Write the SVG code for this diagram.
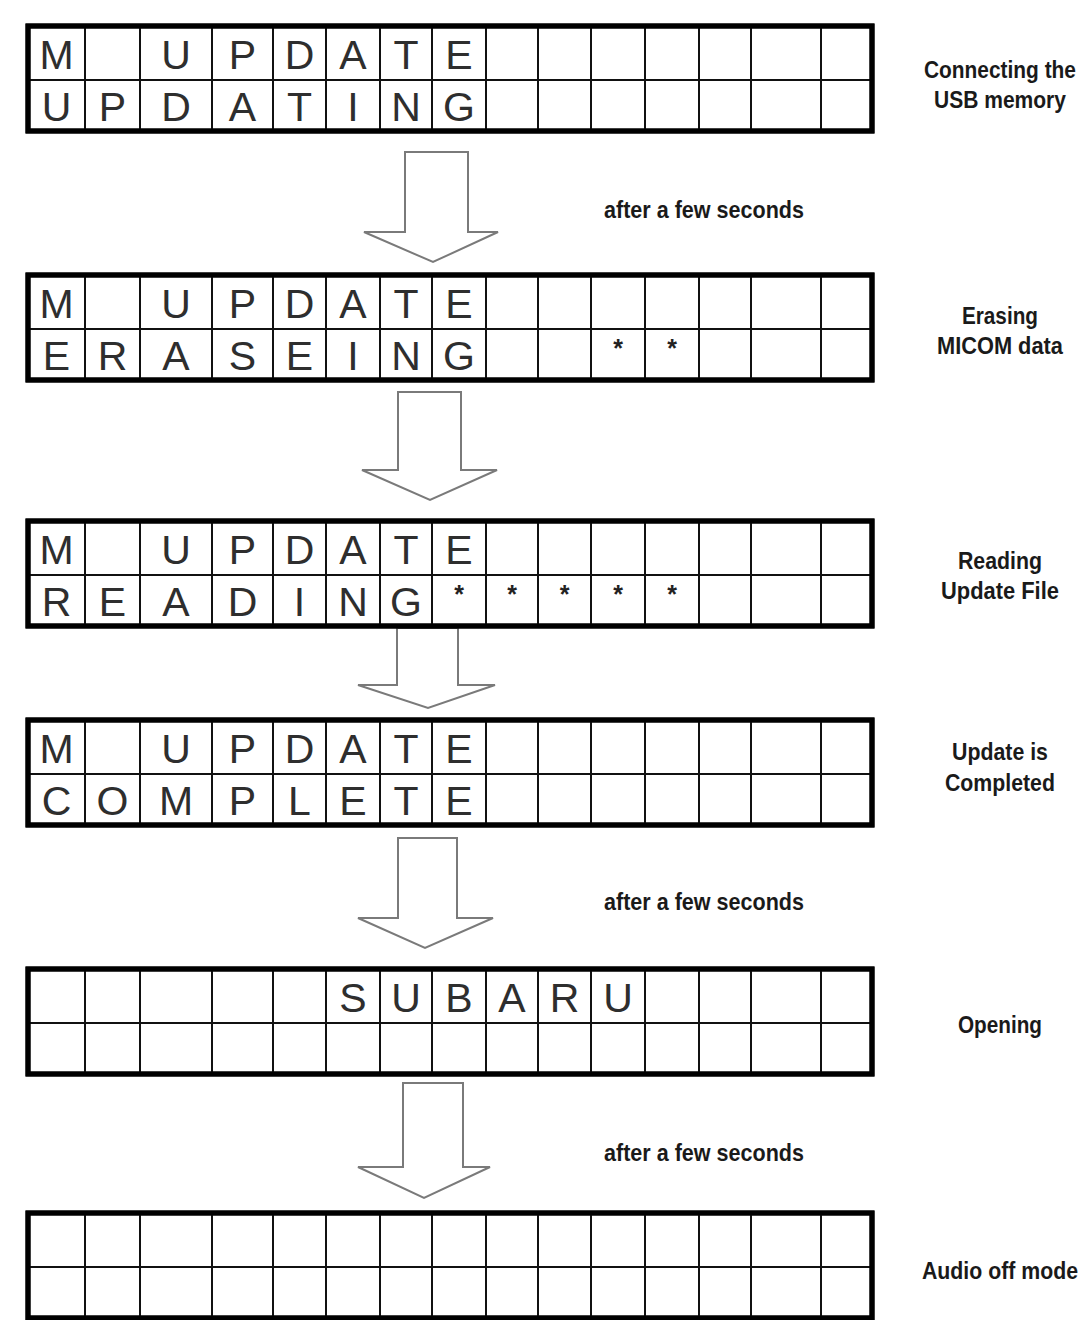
<svg xmlns="http://www.w3.org/2000/svg" xmlns:xlink="http://www.w3.org/1999/xlink" width="1088" height="1320" viewBox="0 0 1088 1320">
<style>
.frame{fill:#fff;stroke:#000;stroke-width:5}
.grid{stroke:#111;stroke-width:2;fill:none}
.ch{font-family:"Liberation Sans",Arial,sans-serif;font-size:41px;fill:#2e2e2e;text-anchor:middle}
.st{font-family:"Liberation Sans",Arial,sans-serif;font-size:25px;font-weight:bold;fill:#222;text-anchor:middle}
.lbl{font-family:"Liberation Sans",Arial,sans-serif;font-weight:bold;font-size:24px;fill:#1a1a1a;text-anchor:middle}
.arr{fill:#fff;stroke:#7a7a7a;stroke-width:2;stroke-linejoin:miter}
</style>
<defs>
<g id="lcd">
<rect class="frame" x="28" y="0" width="844" height="105"/>
<path class="grid" d="M85 0V105M140 0V105M212 0V105M273 0V105M326 0V105M380 0V105M432 0V105M486 0V105M538 0V105M591 0V105M645 0V105M699 0V105M751 0V105M821 0V105M28 54H872"/>
<rect x="28" y="0" width="844" height="105" fill="none" stroke="#000" stroke-width="5"/>
</g>
</defs>
<rect width="1088" height="1320" fill="#fff"/>

<g id="connectors">
<polygon class="arr" points="405,152 468,152 468,232 498,232 433,262 364,232 405,232"/>
<polygon class="arr" points="398,392 461,392 461,470 497,470 430,500 362,470 398,470"/>
<polygon class="arr" points="397,628 458,628 458,685 495,685 428,708 358,685 397,685"/>
<polygon class="arr" points="398,838 457,838 457,918 493,918 425,948 358,918 398,918"/>
<polygon class="arr" points="403,1083 463,1083 463,1167 490,1167 424,1198 358,1167 403,1167"/>
</g>

<g id="screen1">
<use xlink:href="#lcd" transform="translate(0,26)"/>
<text class="ch" y="69"><tspan x="56.5">M</tspan><tspan x="176">U</tspan><tspan x="242.5">P</tspan><tspan x="299.5">D</tspan><tspan x="353">A</tspan><tspan x="406">T</tspan><tspan x="459">E</tspan></text>
<text class="ch" y="121"><tspan x="56.5">U</tspan><tspan x="112.5">P</tspan><tspan x="176">D</tspan><tspan x="242.5">A</tspan><tspan x="299.5">T</tspan><tspan x="353">I</tspan><tspan x="406">N</tspan><tspan x="459">G</tspan></text>
</g>

<g id="screen2">
<use xlink:href="#lcd" transform="translate(0,275)"/>
<text class="ch" y="318"><tspan x="56.5">M</tspan><tspan x="176">U</tspan><tspan x="242.5">P</tspan><tspan x="299.5">D</tspan><tspan x="353">A</tspan><tspan x="406">T</tspan><tspan x="459">E</tspan></text>
<text class="ch" y="370"><tspan x="56.5">E</tspan><tspan x="112.5">R</tspan><tspan x="176">A</tspan><tspan x="242.5">S</tspan><tspan x="299.5">E</tspan><tspan x="353">I</tspan><tspan x="406">N</tspan><tspan x="459">G</tspan></text>
<text class="st" y="357"><tspan x="618">*</tspan><tspan x="672">*</tspan></text>
</g>

<g id="screen3">
<use xlink:href="#lcd" transform="translate(0,521)"/>
<text class="ch" y="564"><tspan x="56.5">M</tspan><tspan x="176">U</tspan><tspan x="242.5">P</tspan><tspan x="299.5">D</tspan><tspan x="353">A</tspan><tspan x="406">T</tspan><tspan x="459">E</tspan></text>
<text class="ch" y="616"><tspan x="56.5">R</tspan><tspan x="112.5">E</tspan><tspan x="176">A</tspan><tspan x="242.5">D</tspan><tspan x="299.5">I</tspan><tspan x="353">N</tspan><tspan x="406">G</tspan></text>
<text class="st" y="603"><tspan x="459">*</tspan><tspan x="512">*</tspan><tspan x="564.5">*</tspan><tspan x="618">*</tspan><tspan x="672">*</tspan></text>
</g>

<g id="screen4">
<use xlink:href="#lcd" transform="translate(0,720)"/>
<text class="ch" y="763"><tspan x="56.5">M</tspan><tspan x="176">U</tspan><tspan x="242.5">P</tspan><tspan x="299.5">D</tspan><tspan x="353">A</tspan><tspan x="406">T</tspan><tspan x="459">E</tspan></text>
<text class="ch" y="815"><tspan x="56.5">C</tspan><tspan x="112.5">O</tspan><tspan x="176">M</tspan><tspan x="242.5">P</tspan><tspan x="299.5">L</tspan><tspan x="353">E</tspan><tspan x="406">T</tspan><tspan x="459">E</tspan></text>
</g>

<g id="screen5">
<use xlink:href="#lcd" transform="translate(0,969)"/>
<text class="ch" y="1012"><tspan x="353">S</tspan><tspan x="406">U</tspan><tspan x="459">B</tspan><tspan x="512">A</tspan><tspan x="564.5">R</tspan><tspan x="618">U</tspan></text>
</g>

<g id="screen6">
<use xlink:href="#lcd" transform="translate(0,1213)"/>
</g>

<g id="labels" transform="scale(0.87,1)">
<text class="lbl" x="1149.4" y="78" textLength="174.7" lengthAdjust="spacingAndGlyphs">Connecting the</text>
<text class="lbl" x="1149.4" y="108" textLength="151.7" lengthAdjust="spacingAndGlyphs">USB memory</text>
<text class="lbl" x="809.2" y="218" textLength="229.9" lengthAdjust="spacingAndGlyphs">after a few seconds</text>
<text class="lbl" x="1149.4" y="324" textLength="87.4" lengthAdjust="spacingAndGlyphs">Erasing</text>
<text class="lbl" x="1149.4" y="354" textLength="144.8" lengthAdjust="spacingAndGlyphs">MICOM data</text>
<text class="lbl" x="1149.4" y="569" textLength="96.6" lengthAdjust="spacingAndGlyphs">Reading</text>
<text class="lbl" x="1149.4" y="599" textLength="135.6" lengthAdjust="spacingAndGlyphs">Update File</text>
<text class="lbl" x="1149.4" y="760" textLength="110.3" lengthAdjust="spacingAndGlyphs">Update is</text>
<text class="lbl" x="1149.4" y="791" textLength="126.4" lengthAdjust="spacingAndGlyphs">Completed</text>
<text class="lbl" x="809.2" y="910" textLength="229.9" lengthAdjust="spacingAndGlyphs">after a few seconds</text>
<text class="lbl" x="1149.4" y="1033" textLength="96.6" lengthAdjust="spacingAndGlyphs">Opening</text>
<text class="lbl" x="809.2" y="1161" textLength="229.9" lengthAdjust="spacingAndGlyphs">after a few seconds</text>
<text class="lbl" x="1149.4" y="1279" textLength="179.3" lengthAdjust="spacingAndGlyphs">Audio off mode</text>
</g>
</svg>
